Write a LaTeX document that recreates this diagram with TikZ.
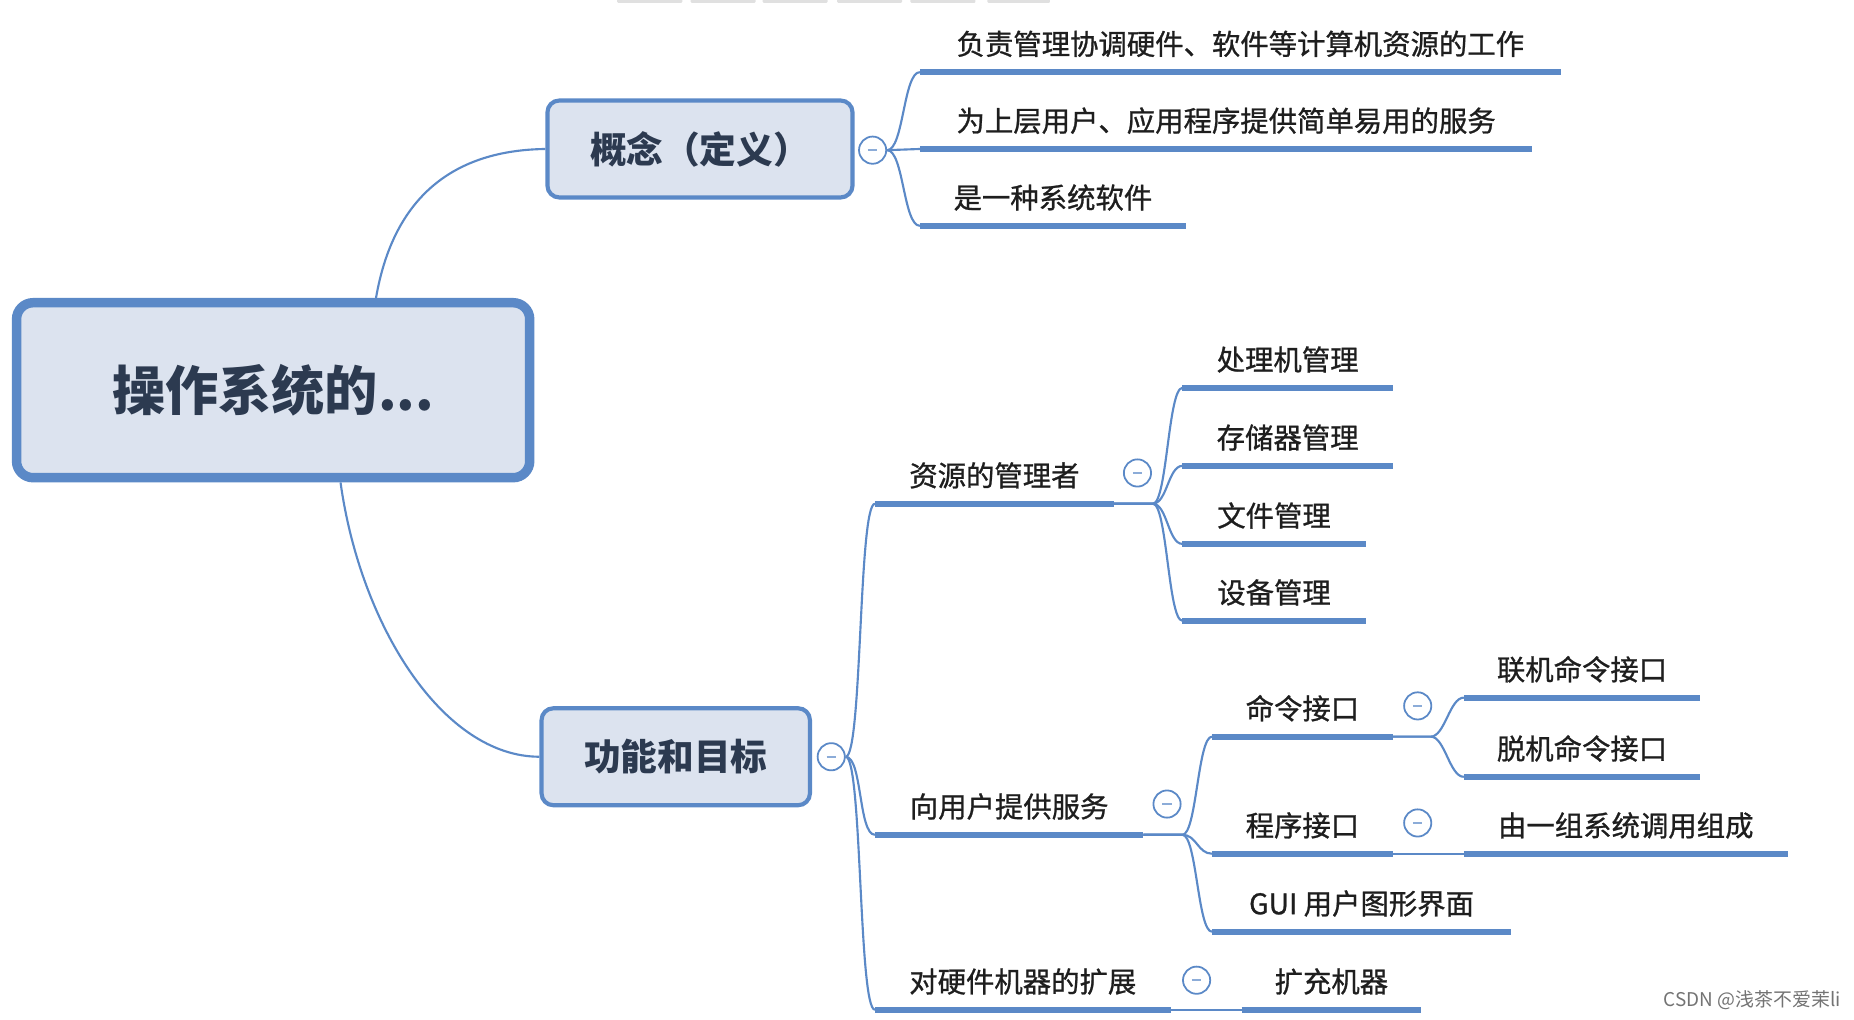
\documentclass[tikz,border=0pt]{standalone}
\usepackage{fontspec}
\newfontfamily\cjk{Noto Sans CJK SC}
\newfontfamily\cjkm{Noto Sans CJK SC}[FakeBold=0.9]
\definecolor{lblue}{HTML}{5B89C7}
\definecolor{bfill}{HTML}{DCE3EF}
\definecolor{btext}{HTML}{2C3A50}
\definecolor{ltext}{HTML}{1E1E1E}
\begin{document}
\begin{tikzpicture}[x=1pt,y=-1pt,
  conn/.style={draw=lblue,line width=1.8pt},
  uline/.style={draw=lblue,line width=5pt},
  leaf/.style={anchor=south,inner xsep=0pt,inner ysep=10pt,outer sep=0pt,
    text height=19pt,text depth=4.8pt,text=ltext,font=\cjkm\fontsize{24}{28}\selectfont},
  topicbox/.style={draw=lblue,fill=bfill,line width=3.5pt,rounded corners=10pt,
    minimum height=82pt,inner sep=0pt,text=btext,font=\cjk\bfseries\fontsize{31}{36}\selectfont},
  rootbox/.style={draw=lblue,fill=bfill,line width=8pt,rounded corners=14pt,
    minimum width=434pt,minimum height=148pt,inner sep=0pt,text=btext,
    font=\cjk\bfseries\fontsize{45}{50}\selectfont},
  fold/.style={circle,draw=lblue,line width=1.5pt,fill=white,minimum size=23pt,inner sep=0pt,
    path picture={\draw[lblue!70,line width=1.3pt] ([xshift=-4pt]path picture bounding box.center) -- ([xshift=4pt]path picture bounding box.center);}},
  tab/.style={fill=black!12,draw=none,rounded corners=1pt}
]
\useasboundingbox (0,0) rectangle (1568,862);

% faint tabs at top edge
\foreach \a/\b [count=\i] in {522/577,584/639,645/700,708/763,770/825,835/888}
  \path[tab] (\a,-2) rectangle (\b,2.5);

% main topics
\node[rootbox] (root) at (231,330) {操作系统的...};
\node[topicbox,minimum width=258pt] (gn) at (592,126) {概念（定义）};
\node[topicbox,minimum width=227pt] (fn) at (571.5,640) {功能和目标};

% fold markers
\node[fold] (cA) at (738,127) {};
\node[fold] (cB) at (703,640) {};
\node[fold] (cb1) at (962,400) {};
\node[fold] (cb2) at (987,680) {};
\node[fold] (cd1) at (1199,597) {};
\node[fold] (cd2) at (1199,696) {};
\node[fold] (cb3) at (1012,829) {};

% leaves of 概念
\node[leaf,minimum width=542pt] (a1) at (1049,61) {负责管理协调硬件、软件等计算机资源的工作};
\node[leaf,minimum width=518pt] (a2) at (1037,126) {为上层用户、应用程序提供简单易用的服务};
\node[leaf,minimum width=225pt] (a3) at (890.5,191) {是一种系统软件};

% second level of 功能和目标
\node[leaf,minimum width=202pt] (b1) at (841,426) {资源的管理者};
\node[leaf,minimum width=227pt] (b2) at (853.5,706) {向用户提供服务};
\node[leaf,minimum width=250pt] (b3) at (865,854) {对硬件机器的扩展};

% under 资源的管理者
\node[leaf,minimum width=178pt] (c1) at (1089,328) {处理机管理};
\node[leaf,minimum width=178pt] (c2) at (1089,394) {存储器管理};
\node[leaf,minimum width=155pt] (c3) at (1077.5,460) {文件管理};
\node[leaf,minimum width=155pt] (c4) at (1077.5,525) {设备管理};

% under 向用户提供服务
\node[leaf,minimum width=153pt] (d1) at (1101.5,623) {命令接口};
\node[leaf,minimum width=153pt] (d2) at (1101.5,722) {程序接口};
\node[leaf,minimum width=253pt] (d3) at (1151.5,788) {GUI 用户图形界面};

% third level
\node[leaf,minimum width=200pt] (e1) at (1338,590) {联机命令接口};
\node[leaf,minimum width=200pt] (e2) at (1338,657) {脱机命令接口};
\node[leaf,minimum width=274pt] (e3) at (1375,722) {由一组系统调用组成};
\node[leaf,minimum width=152pt] (e4) at (1126,854) {扩充机器};

% underlines
\foreach \n in {a1,a2,a3,b1,b2,b3,c1,c2,c3,c4,d1,d2,d3,e1,e2,e3,e4}
  \draw[uline] (\n.south west) -- (\n.south east);

% fork points
\coordinate (f1) at (975,426);
\coordinate (f2) at (1000,706);
\coordinate (f3) at (1210,623);

% connectors from root
\draw[conn] ([xshift=87pt]root.north) .. controls (333,165) and (385,127) .. (gn.west);
\draw[conn] ([xshift=57pt]root.south) .. controls (305,530) and (375,640) .. (fn.west);

% 概念 children
\foreach \n in {a1,a2,a3}
  \draw[conn] (cA.east) .. controls +(14,0) and +(-14,0) .. (\n.south west);

% 功能和目标 children
\foreach \n in {b1,b2,b3}
  \draw[conn] (cB.east) .. controls +(14,0) and +(-14,0) .. (\n.south west);

% 资源的管理者 children
\foreach \n in {c1,c2,c3,c4}
  \draw[conn] (b1.south east) -- (f1) .. controls +(12,0) and +(-12,0) .. (\n.south west);

% 向用户提供服务 children
\foreach \n in {d1,d2,d3}
  \draw[conn] (b2.south east) -- (f2) .. controls +(12,0) and +(-12,0) .. (\n.south west);

% 命令接口 children
\foreach \n in {e1,e2}
  \draw[conn] (d1.south east) -- (f3) .. controls +(12,0) and +(-12,0) .. (\n.south west);

\draw[conn] (d2.south east) -- (e3.south west);
\draw[conn] (b3.south east) -- (e4.south west);

% watermark
\node[anchor=east,text=black!55,font=\cjk\fontsize{16}{18}\selectfont,inner sep=0pt] (wm) at (1557,846) {CSDN @浅茶不爱茉li};
\end{tikzpicture}
\end{document}
